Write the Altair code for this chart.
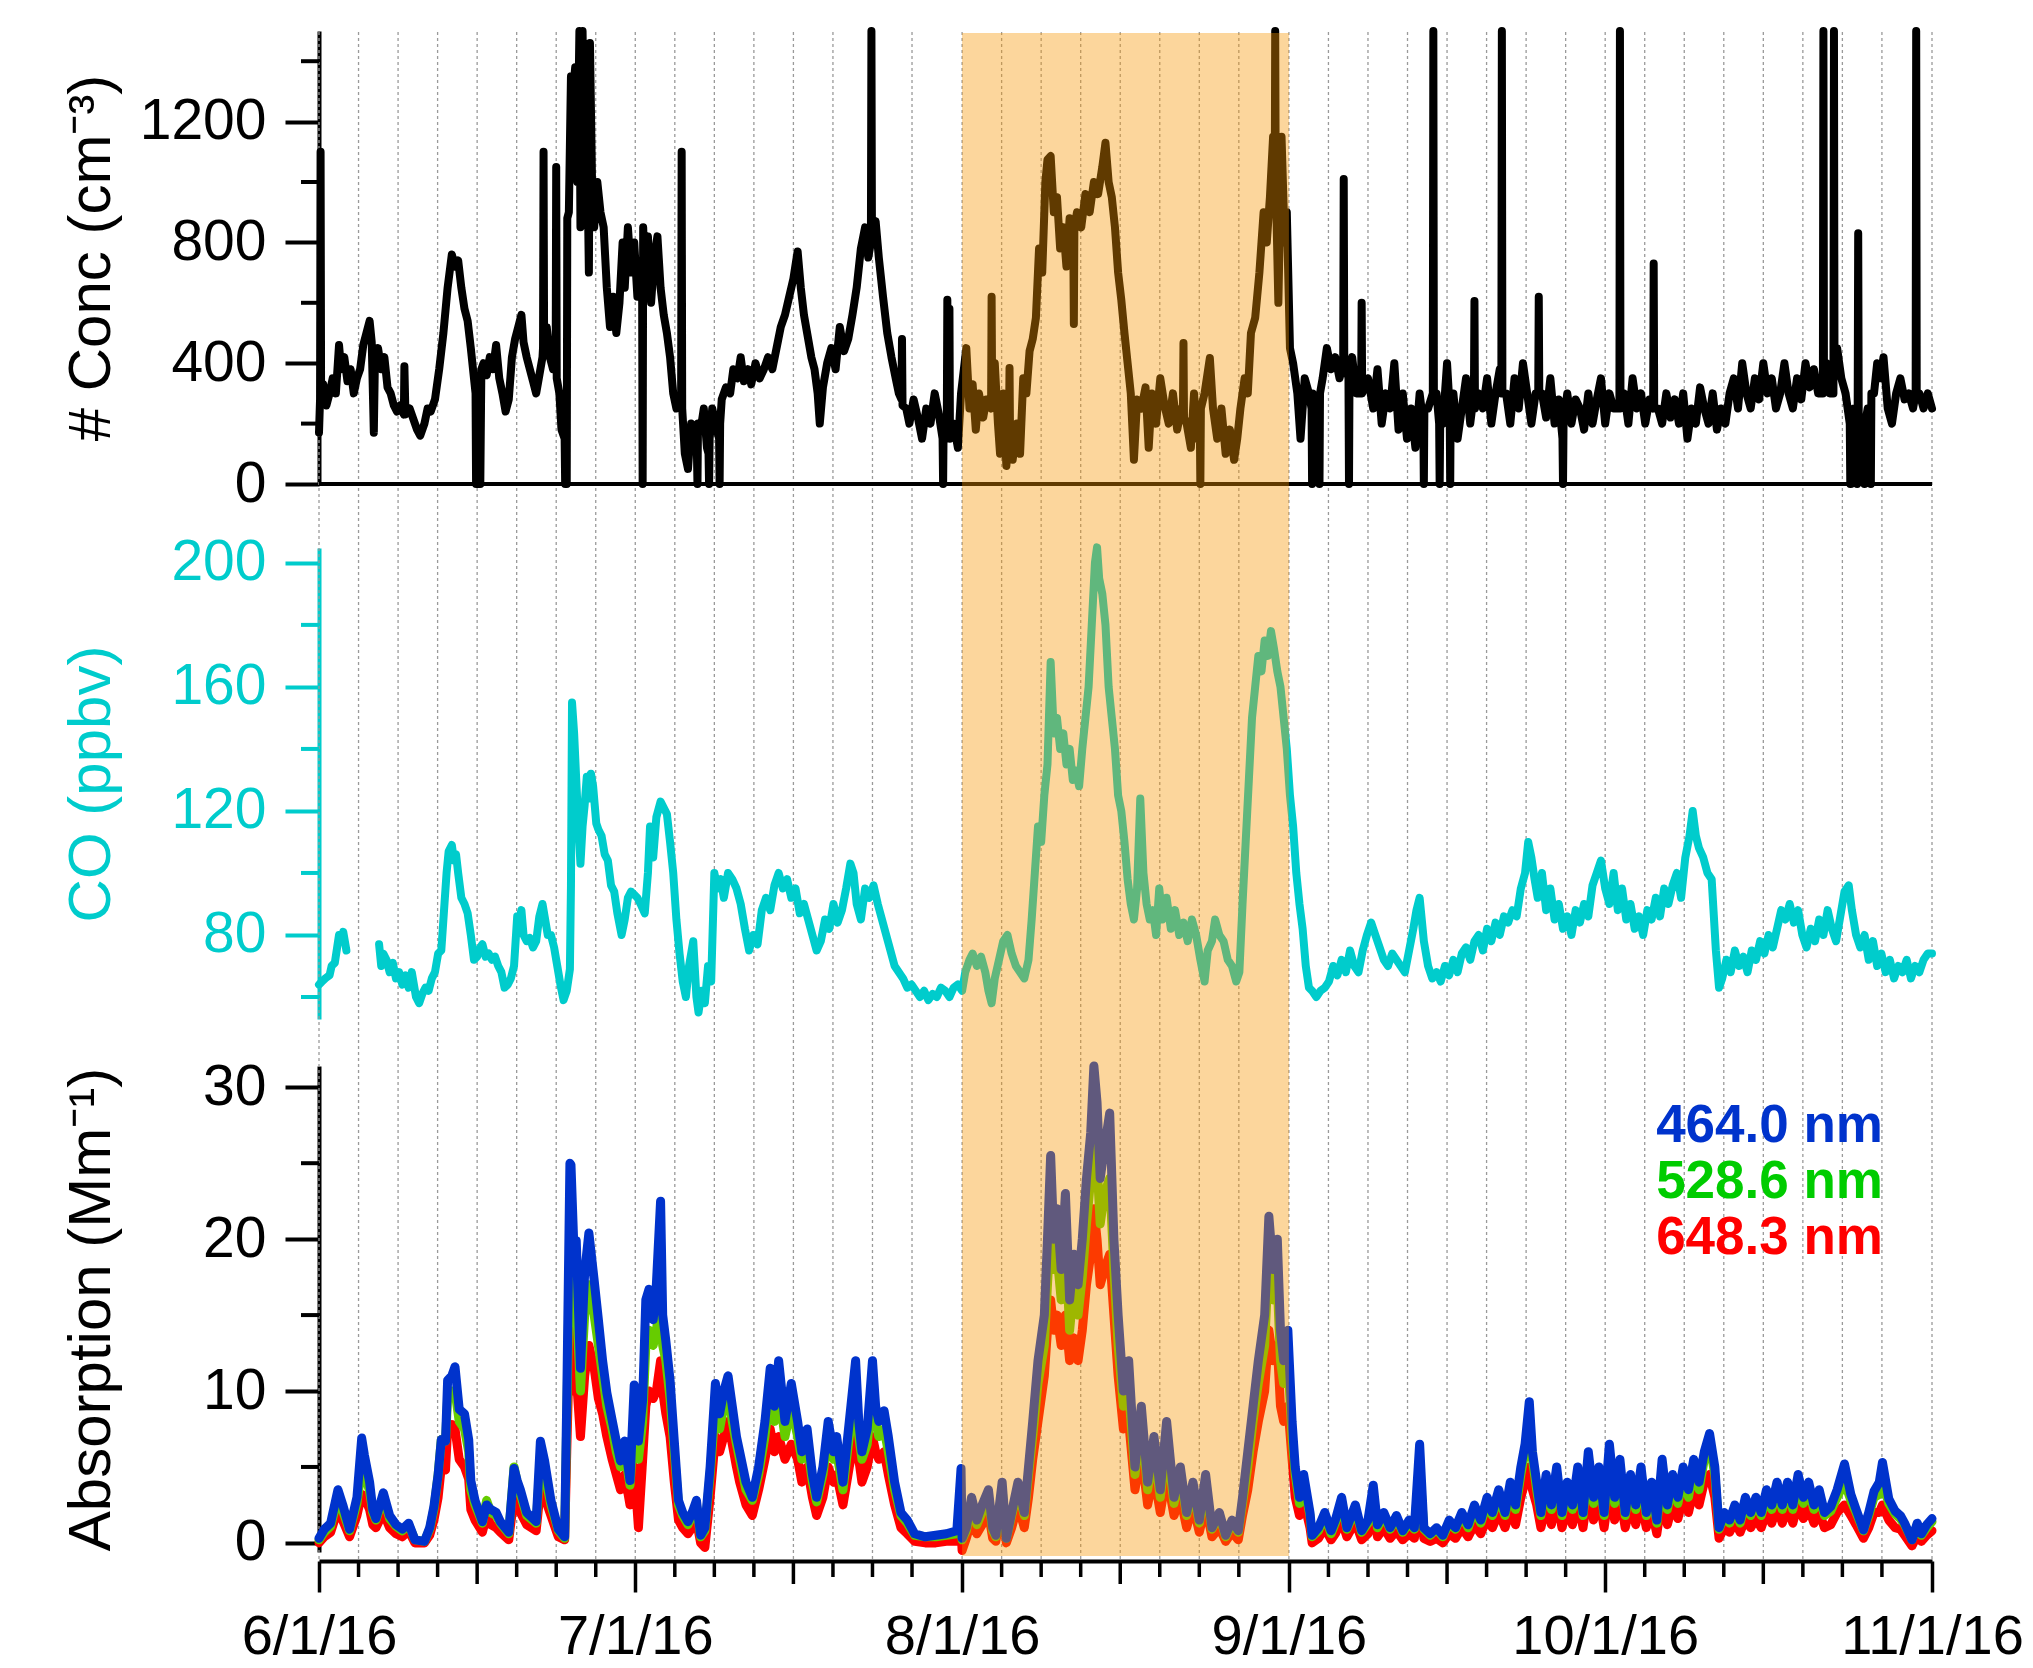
import altair as alt
import pandas as pd

# ------------------------------------------------------------------
# Data (x = days since 6/1/16)
# ------------------------------------------------------------------
MONTH_DAYS = [0, 30, 61, 92, 122, 153]
MONTH_LABELS = ["6/1/16", "7/1/16", "8/1/16", "9/1/16", "10/1/16", "11/1/16"]
BAND_DAYS = [61, 92]  # 8/1/16 -> 9/1/16 highlighted period

CONC_TICKS_MAJOR = [0, 400, 800, 1200]
CONC_TICKS_MINOR = [200, 600, 1000, 1400]
CO_TICKS_MAJOR = [80, 120, 160, 200]
CO_TICKS_MINOR = [60, 100, 140, 180]
ABS_TICKS_MAJOR = [0, 10, 20, 30]
ABS_TICKS_MINOR = [5, 15, 25]

LEGEND_LABELS = ["464.0 nm", "528.6 nm", "648.3 nm"]

# number concentration (cm^-3): (day, value)
CONC_POINTS = [
    (0.00, 170), (0.10, 280), (0.15, 1100), (0.20, 260), (0.40, 330), (0.70, 260), (1.00, 300),
    (1.30, 350), (1.60, 300), (1.90, 460), (2.10, 380), (2.40, 420), (2.70, 340), (3.00, 380),
    (3.30, 300), (3.60, 350), (3.90, 380), (4.20, 460), (4.50, 500), (4.80, 540), (5.00, 470),
    (5.20, 170), (5.30, 400), (5.60, 450), (5.90, 380), (6.20, 420), (6.50, 320), (6.80, 300),
    (7.10, 260), (7.40, 240), (7.70, 260), (8.05, 230), (8.10, 390), (8.20, 230), (8.60, 250),
    (9.00, 210), (9.30, 180), (9.60, 160), (10.0, 200), (10.3, 250), (10.6, 240), (11.0, 280),
    (11.4, 380), (11.8, 500), (12.2, 650), (12.6, 760), (12.9, 720), (13.2, 740), (13.5, 650),
    (13.8, 580), (14.1, 540), (14.4, 450), (14.7, 350), (14.85, 300), (14.9, 0), (15.3, 0),
    (15.4, 380), (15.6, 400), (15.9, 360), (16.2, 420), (16.5, 380), (16.8, 460), (17.1, 350),
    (17.4, 300), (17.7, 240), (18.0, 280), (18.3, 420), (18.6, 480), (18.9, 520), (19.2, 560),
    (19.4, 470), (19.7, 420), (20.0, 380), (20.3, 340), (20.6, 300), (20.9, 360), (21.2, 420),
    (21.25, 450), (21.3, 1100), (21.35, 480), (21.6, 520), (21.9, 420), (22.2, 380), (22.45, 400),
    (22.5, 1050), (22.55, 350), (22.8, 300), (23.0, 180), (23.3, 150), (23.35, 0), (23.5, 0),
    (23.55, 880), (23.7, 900), (23.9, 1350), (24.1, 1300), (24.3, 1380), (24.5, 1000), (24.7, 1500),
    (24.8, 850), (25.0, 1500), (25.2, 1000), (25.4, 1200), (25.6, 700), (25.7, 1460), (25.9, 1000),
    (26.1, 850), (26.4, 1000), (26.7, 900), (27.0, 850), (27.3, 650), (27.6, 520), (27.9, 620),
    (28.2, 500), (28.5, 600), (28.8, 800), (29.0, 650), (29.3, 850), (29.6, 700), (29.9, 800),
    (30.2, 620), (30.5, 700), (30.65, 650), (30.7, 0), (30.75, 850), (30.9, 700), (31.2, 820),
    (31.5, 600), (31.8, 750), (32.1, 820), (32.4, 650), (32.7, 560), (33.0, 500), (33.3, 420),
    (33.6, 300), (33.9, 250), (34.2, 280), (34.35, 300), (34.4, 1100), (34.45, 250), (34.7, 100),
    (35.0, 50), (35.3, 200), (35.6, 150), (35.85, 100), (35.9, 0), (35.95, 200), (36.2, 180),
    (36.5, 250), (36.8, 120), (36.95, 100), (37.0, 0), (37.05, 150), (37.3, 250), (37.6, 200),
    (37.95, 150), (38.0, 0), (38.05, 200), (38.2, 280), (38.6, 320), (39.0, 300), (39.3, 380),
    (39.7, 350), (40.0, 420), (40.3, 340), (40.7, 380), (41.0, 330), (41.4, 400), (41.8, 350),
    (42.2, 380), (42.6, 420), (43.0, 380), (43.4, 450), (43.8, 520), (44.2, 560), (44.6, 620),
    (45.0, 680), (45.4, 770), (45.7, 650), (46.0, 560), (46.3, 500), (46.7, 420), (47.0, 380),
    (47.3, 300), (47.5, 200), (47.8, 320), (48.2, 400), (48.6, 450), (49.0, 380), (49.4, 520),
    (49.8, 440), (50.2, 480), (50.6, 560), (51.0, 650), (51.4, 780), (51.8, 850), (52.1, 750),
    (52.35, 800), (52.4, 1500), (52.45, 820), (52.8, 870), (53.1, 750), (53.5, 620), (53.9, 500),
    (54.3, 420), (54.7, 350), (55.0, 300), (55.25, 280), (55.3, 480), (55.35, 260), (55.7, 250),
    (56.0, 200), (56.4, 280), (56.8, 220), (57.2, 150), (57.6, 250), (58.0, 200), (58.4, 300),
    (58.8, 230), (59.15, 150), (59.2, 0), (59.25, 200), (59.55, 200), (59.6, 610), (59.65, 300),
    (59.75, 250), (59.8, 580), (59.85, 150), (60.2, 200), (60.6, 120), (60.9, 300), (61.0, 330),
    (61.4, 450), (61.7, 250), (62.0, 330), (62.3, 180), (62.6, 300), (63.0, 220), (63.3, 280),
    (63.75, 250), (63.8, 620), (63.85, 300), (64.1, 400), (64.4, 200), (64.6, 100), (64.9, 300),
    (65.2, 60), (65.45, 200), (65.5, 384), (65.55, 150), (65.8, 80), (66.2, 200), (66.5, 100),
    (66.8, 350), (67.1, 300), (67.4, 440), (67.7, 480), (68.0, 550), (68.3, 780), (68.6, 700),
    (68.9, 1000), (69.1, 1074), (69.4, 1086), (69.7, 900), (70.0, 950), (70.3, 780), (70.6, 850),
    (70.9, 720), (71.2, 880), (71.55, 800), (71.6, 530), (71.65, 850), (71.9, 900), (72.3, 850),
    (72.7, 960), (73.1, 900), (73.5, 1000), (73.9, 960), (74.3, 1050), (74.6, 1130), (74.9, 1000),
    (75.2, 950), (75.5, 850), (75.8, 700), (76.1, 610), (76.4, 500), (76.7, 400), (77.0, 300),
    (77.3, 80), (77.6, 280), (78.0, 250), (78.4, 320), (78.7, 120), (79.0, 300), (79.4, 200),
    (79.8, 350), (80.2, 260), (80.6, 200), (81.0, 300), (81.4, 180), (81.8, 250), (81.95, 250),
    (82.0, 467), (82.05, 220), (82.3, 200), (82.7, 120), (83.0, 300), (83.3, 150), (83.55, 200),
    (83.6, 0), (83.65, 250), (84.0, 300), (84.5, 417), (84.8, 250), (85.2, 150), (85.6, 250),
    (86.0, 100), (86.4, 180), (86.8, 80), (87.1, 150), (87.4, 250), (87.8, 350), (88.1, 300),
    (88.4, 500), (88.8, 550), (89.2, 700), (89.6, 900), (89.9, 800), (90.2, 950), (90.5, 1150),
    (90.65, 900), (90.7, 1500), (90.75, 1000), (91.0, 600), (91.3, 1150), (91.6, 800), (91.8, 900),
    (92.1, 450), (92.4, 400), (92.8, 300), (93.1, 150), (93.5, 350), (93.9, 300), (94.15, 250),
    (94.2, 0), (94.25, 300), (94.5, 250), (94.85, 200), (94.9, 0), (94.95, 300), (95.2, 350),
    (95.6, 450), (96.0, 380), (96.4, 420), (96.8, 350), (97.15, 400), (97.2, 1010), (97.25, 420),
    (97.65, 350), (97.7, 0), (97.75, 380), (98.0, 420), (98.4, 300), (98.85, 300), (98.9, 600),
    (98.95, 300), (99.5, 350), (100.0, 250), (100.4, 380), (100.8, 200), (101.2, 300), (101.6, 250),
    (102.0, 400), (102.4, 180), (102.8, 300), (103.2, 150), (103.6, 250), (104.0, 120), (104.4, 300),
    (104.75, 200), (104.8, 0), (104.85, 250), (105.2, 250), (105.65, 300), (105.7, 1500),
    (105.75, 300), (106.0, 300), (106.25, 200), (106.3, 0), (106.35, 200), (106.6, 200),
    (107.0, 400), (107.25, 250), (107.3, 0), (107.35, 300), (107.6, 300), (108.0, 150),
    (108.4, 250), (108.8, 350), (109.2, 200), (109.55, 300), (109.6, 606), (109.65, 250),
    (110.0, 300), (110.4, 250), (110.8, 350), (111.2, 200), (111.6, 300), (112.0, 380),
    (112.15, 300), (112.2, 1500), (112.25, 300), (112.6, 300), (113.0, 200), (113.4, 350),
    (113.8, 250), (114.2, 400), (114.6, 300), (115.0, 200), (115.4, 300), (115.65, 300),
    (115.7, 620), (115.75, 300), (116.0, 300), (116.4, 220), (116.8, 350), (117.2, 200),
    (117.6, 280), (117.95, 150), (118.0, 0), (118.05, 200), (118.4, 300), (118.8, 200),
    (119.2, 280), (119.6, 250), (120.0, 180), (120.4, 300), (120.8, 200), (121.2, 280),
    (121.6, 350), (122.0, 200), (122.4, 300), (122.8, 250), (123.35, 250), (123.4, 1500),
    (123.45, 250), (123.8, 300), (124.2, 200), (124.6, 350), (125.0, 250), (125.4, 300),
    (125.8, 200), (126.2, 280), (126.55, 250), (126.6, 730), (126.65, 250), (127.0, 250),
    (127.4, 200), (127.8, 300), (128.2, 220), (128.6, 280), (129.0, 200), (129.4, 300),
    (129.8, 150), (130.2, 250), (130.6, 200), (131.0, 320), (131.4, 250), (131.8, 200),
    (132.2, 300), (132.6, 180), (133.0, 250), (133.4, 200), (133.8, 300), (134.2, 350),
    (134.6, 250), (135.0, 400), (135.4, 300), (135.8, 250), (136.2, 350), (136.6, 280),
    (137.0, 400), (137.4, 300), (137.8, 350), (138.2, 250), (138.6, 300), (139.0, 400),
    (139.4, 300), (139.8, 250), (140.2, 350), (140.6, 280), (141.0, 400), (141.4, 320),
    (141.8, 380), (142.2, 300), (142.65, 300), (142.7, 1500), (142.75, 350), (143.0, 400),
    (143.3, 300), (143.65, 300), (143.7, 1500), (143.75, 400), (144.0, 450), (144.4, 350),
    (144.8, 300), (145.2, 200), (145.25, 0), (145.3, 0), (145.6, 250), (145.85, 200), (145.9, 0),
    (145.95, 250), (146.0, 830), (146.05, 200), (146.3, 200), (146.55, 150), (146.6, 0),
    (146.65, 200), (146.9, 250), (147.15, 200), (147.2, 0), (147.25, 300), (147.5, 300),
    (147.8, 400), (148.1, 350), (148.4, 420), (148.8, 250), (149.2, 200), (149.6, 300),
    (150.0, 350), (150.4, 280), (150.8, 300), (151.2, 250), (151.45, 300), (151.5, 1500),
    (151.55, 300), (151.8, 300), (152.2, 250), (152.6, 300), (153.0, 250),
]

# CO (ppbv): two segments (gap in the record)
CO_SEG_A = [
    (0.0, 64), (0.3, 65), (0.6, 66), (1.0, 67), (1.2, 70), (1.5, 71), (1.9, 80), (2.1, 78),
    (2.3, 81), (2.6, 75),
]
CO_SEG_B = [
    (5.7, 77), (5.9, 70), (6.1, 74), (6.4, 72), (6.7, 68), (7.0, 71), (7.3, 66), (7.6, 68),
    (7.9, 64), (8.2, 67), (8.5, 63), (8.8, 68), (9.2, 60), (9.5, 58), (9.8, 61), (10.1, 63),
    (10.4, 62), (10.7, 66), (11.0, 68), (11.3, 74), (11.6, 75), (11.9, 90), (12.1, 100),
    (12.3, 107), (12.6, 109), (12.8, 104), (13.0, 106), (13.2, 100), (13.5, 92), (13.8, 90),
    (14.1, 87), (14.4, 80), (14.7, 72), (15.0, 73), (15.3, 76), (15.5, 77), (15.8, 73),
    (16.1, 74), (16.4, 72), (16.7, 73), (17.0, 70), (17.3, 68), (17.6, 63), (17.9, 64),
    (18.2, 66), (18.5, 70), (18.8, 86), (19.0, 85), (19.2, 88), (19.4, 80), (19.7, 78),
    (20.0, 79), (20.3, 76), (20.6, 78), (20.9, 86), (21.2, 90), (21.4, 86), (21.7, 80),
    (22.0, 80), (22.3, 76), (22.6, 70), (22.9, 64), (23.2, 59), (23.5, 62), (23.8, 69),
    (23.9, 96), (24.0, 155), (24.2, 145), (24.4, 130), (24.6, 115), (24.8, 103), (25.0, 115),
    (25.2, 122), (25.4, 131), (25.6, 124), (25.8, 132), (26.0, 128), (26.3, 116), (26.5, 114),
    (26.8, 112), (27.1, 106), (27.4, 104), (27.7, 96), (28.0, 94), (28.3, 87), (28.7, 80),
    (29.0, 85), (29.3, 92), (29.6, 94), (29.9, 93), (30.2, 92), (30.5, 90), (30.9, 87),
    (31.2, 100), (31.4, 115), (31.7, 105), (32.0, 118), (32.4, 123), (32.7, 121), (33.0, 119),
    (33.3, 110), (33.6, 100), (33.9, 85), (34.2, 74), (34.5, 65), (34.8, 60), (35.1, 70),
    (35.5, 78), (35.8, 60), (36.0, 55), (36.3, 62), (36.6, 58), (36.9, 70), (37.2, 65),
    (37.5, 100), (37.8, 95), (38.1, 98), (38.4, 92), (38.8, 100), (39.2, 98), (39.6, 95),
    (40.0, 90), (40.4, 82), (40.8, 75), (41.2, 80), (41.6, 77), (42.0, 88), (42.4, 92),
    (42.8, 88), (43.2, 96), (43.6, 100), (44.0, 95), (44.4, 98), (44.8, 92), (45.2, 95),
    (45.6, 87), (46.0, 90), (46.4, 85), (46.8, 80), (47.2, 75), (47.6, 78), (48.0, 85),
    (48.4, 82), (48.8, 90), (49.2, 84), (49.6, 88), (50.0, 95), (50.4, 103), (50.7, 100),
    (51.0, 90), (51.4, 85), (51.8, 95), (52.2, 92), (52.6, 96), (53.0, 90), (53.4, 85),
    (53.8, 80), (54.2, 75), (54.6, 70), (55.0, 68), (55.4, 66), (55.8, 63), (56.2, 64),
    (56.6, 62), (57.0, 60), (57.4, 62), (57.8, 59), (58.2, 61), (58.6, 60), (59.0, 63),
    (59.4, 62), (59.8, 60), (60.2, 63), (60.6, 64), (61.0, 62), (61.3, 68), (61.7, 72),
    (62.0, 74), (62.4, 70), (62.8, 73), (63.2, 68), (63.5, 62), (63.8, 58), (64.1, 66),
    (64.5, 72), (64.9, 78), (65.3, 80), (65.7, 74), (66.1, 70), (66.5, 68), (66.9, 66),
    (67.3, 72), (67.6, 85), (67.9, 100), (68.2, 115), (68.5, 110), (68.8, 125), (69.1, 135),
    (69.4, 168), (69.7, 145), (70.0, 150), (70.3, 140), (70.6, 145), (70.9, 135), (71.2, 140),
    (71.5, 130), (71.8, 133), (72.1, 128), (72.4, 140), (72.7, 150), (73.0, 160), (73.3, 180),
    (73.6, 200), (73.8, 205), (74.0, 195), (74.3, 190), (74.6, 180), (74.9, 160), (75.2, 150),
    (75.5, 140), (75.8, 125), (76.1, 120), (76.4, 110), (76.7, 98), (77.0, 90), (77.3, 85),
    (77.6, 95), (77.9, 124), (78.2, 100), (78.5, 90), (78.8, 85), (79.1, 88), (79.4, 80),
    (79.7, 95), (80.0, 85), (80.4, 92), (80.8, 82), (81.2, 88), (81.6, 80), (82.0, 84),
    (82.4, 78), (82.8, 85), (83.2, 80), (83.6, 72), (84.0, 65), (84.3, 75), (84.7, 78),
    (85.0, 85), (85.4, 80), (85.8, 78), (86.2, 72), (86.6, 70), (87.0, 65), (87.3, 68),
    (87.6, 90), (87.9, 110), (88.2, 130), (88.5, 150), (88.8, 160), (89.1, 170), (89.4, 165),
    (89.7, 175), (90.0, 170), (90.3, 178), (90.6, 172), (90.9, 165), (91.2, 160), (91.5, 150),
    (91.8, 140), (92.1, 125), (92.4, 115), (92.7, 100), (93.0, 90), (93.3, 82), (93.6, 70),
    (93.9, 63), (94.2, 62), (94.6, 60), (95.0, 62), (95.4, 63), (95.8, 65), (96.2, 70),
    (96.6, 67), (97.0, 72), (97.4, 68), (97.8, 75), (98.2, 70), (98.6, 68), (99.0, 75),
    (99.4, 80), (99.8, 84), (100.2, 80), (100.6, 76), (101.0, 72), (101.4, 70), (101.8, 74),
    (102.2, 72), (102.6, 70), (103.0, 68), (103.4, 75), (103.8, 82), (104.1, 88), (104.4, 92),
    (104.8, 78), (105.2, 70), (105.6, 66), (106.0, 68), (106.4, 65), (106.8, 70), (107.2, 67),
    (107.6, 72), (108.0, 68), (108.4, 74), (108.8, 76), (109.2, 72), (109.6, 78), (110.0, 80),
    (110.4, 75), (110.8, 82), (111.2, 78), (111.6, 84), (112.0, 80), (112.4, 86), (112.8, 84),
    (113.2, 88), (113.6, 86), (114.0, 95), (114.4, 100), (114.7, 110), (115.0, 105),
    (115.3, 98), (115.6, 92), (116.0, 100), (116.4, 88), (116.8, 95), (117.2, 85), (117.6, 90),
    (118.0, 82), (118.4, 86), (118.8, 80), (119.2, 88), (119.6, 84), (120.0, 90), (120.4, 86),
    (120.8, 96), (121.2, 100), (121.6, 104), (122.0, 95), (122.4, 90), (122.8, 100),
    (123.2, 88), (123.6, 95), (124.0, 85), (124.4, 90), (124.8, 82), (125.2, 86), (125.6, 80),
    (126.0, 88), (126.4, 85), (126.8, 92), (127.2, 86), (127.6, 95), (128.0, 90), (128.4, 96),
    (128.8, 100), (129.2, 92), (129.6, 105), (130.0, 112), (130.3, 120), (130.6, 112),
    (130.9, 108), (131.3, 105), (131.7, 100), (132.1, 98), (132.5, 75), (132.8, 63),
    (133.1, 66), (133.5, 72), (133.9, 68), (134.3, 75), (134.7, 70), (135.1, 73), (135.5, 68),
    (135.9, 75), (136.3, 72), (136.7, 78), (137.1, 74), (137.5, 80), (137.9, 76), (138.3, 82),
    (138.7, 88), (139.1, 85), (139.5, 90), (139.9, 84), (140.3, 88), (140.7, 80), (141.1, 76),
    (141.5, 82), (141.9, 78), (142.3, 85), (142.7, 80), (143.1, 88), (143.5, 82), (143.9, 78),
    (144.3, 86), (144.7, 94), (145.1, 96), (145.4, 88), (145.8, 80), (146.2, 76), (146.6, 80),
    (147.0, 72), (147.4, 78), (147.8, 70), (148.2, 74), (148.6, 68), (149.0, 72), (149.4, 66),
    (149.8, 70), (150.2, 68), (150.6, 72), (151.0, 66), (151.4, 70), (151.8, 68), (152.2, 72),
    (152.6, 74), (153.0, 74),
]

# Absorption (Mm^-1): (day, 464.0 nm, 528.6 nm, 648.3 nm)
ABS_ROWS = [
    (0.0, 0.3, 0.2, 0.0), (0.5, 0.9, 0.7, 0.4), (1.1, 1.3, 1.1, 0.7), (1.8, 3.5, 3.0, 2.2),
    (2.3, 2.4, 2.0, 1.4), (2.9, 0.9, 0.8, 0.4), (3.6, 3.0, 2.6, 1.8), (4.05, 6.9, 5.0, 3.2),
    (4.3, 5.8, 4.6, 3.0), (4.8, 4.0, 3.4, 2.2), (5.1, 2.2, 2.0, 1.2), (5.4, 1.6, 1.5, 1.0),
    (6.1, 3.3, 3.0, 2.0), (6.7, 1.8, 1.6, 1.0), (7.3, 1.2, 1.1, 0.6), (7.9, 0.9, 0.8, 0.4),
    (8.5, 1.3, 1.2, 0.8), (9.1, 0.2, 0.2, 0.0), (10.0, 0.1, 0.1, 0.0), (10.5, 1.0, 0.9, 0.5),
    (10.9, 2.4, 2.2, 1.5), (11.3, 4.5, 4.5, 3.0), (11.6, 6.8, 6.8, 5.0), (12.0, 6.7, 6.7, 4.8),
    (12.2, 10.7, 9.5, 7.5), (12.6, 11.0, 10.0, 7.8), (12.9, 11.6, 10.0, 7.5), (13.3, 8.8, 8.0, 5.5),
    (13.8, 8.5, 7.5, 5.0), (14.2, 6.8, 6.0, 4.2), (14.4, 4.1, 3.5, 2.2), (14.8, 2.8, 2.5, 1.5),
    (15.5, 1.4, 1.3, 0.7), (15.9, 2.5, 2.8, 1.8), (16.3, 2.2, 2.0, 1.2), (16.8, 2.0, 1.8, 1.0),
    (17.2, 1.4, 1.3, 0.7), (18.0, 0.7, 0.6, 0.2), (18.5, 4.9, 5.0, 3.0), (18.8, 4.1, 4.0, 2.5),
    (19.1, 3.5, 3.2, 2.0), (19.7, 2.0, 1.8, 1.2), (20.6, 1.4, 1.3, 0.8), (21.0, 6.7, 5.5, 3.5),
    (21.4, 5.4, 4.5, 3.0), (22.0, 2.8, 2.5, 1.8), (22.7, 0.9, 0.8, 0.4), (23.3, 0.4, 0.3, 0.2),
    (23.5, 9.4, 8.0, 6.0), (23.8, 25.0, 20.0, 14.0), (23.9, 24.9, 20.0, 13.0),
    (24.2, 19.0, 15.0, 10.0), (24.4, 19.9, 16.0, 11.0), (24.8, 11.5, 10.0, 7.0),
    (25.2, 17.8, 15.0, 11.0), (25.6, 20.4, 17.0, 13.0), (26.1, 17.3, 15.0, 11.5),
    (26.5, 14.7, 13.0, 9.5), (26.9, 12.0, 11.0, 8.5), (27.3, 9.9, 9.0, 7.0), (27.8, 8.1, 7.5, 5.5),
    (28.2, 6.7, 6.0, 4.5), (28.6, 5.4, 5.0, 3.5), (29.0, 6.7, 6.0, 4.5), (29.5, 4.1, 3.8, 2.5),
    (29.9, 10.4, 8.0, 5.0), (30.3, 6.7, 5.5, 1.0), (30.7, 9.4, 8.0, 5.5), (31.0, 16.0, 13.0, 9.0),
    (31.3, 16.7, 14.0, 10.0), (31.7, 14.7, 13.0, 9.5), (32.0, 17.0, 14.0, 10.0),
    (32.4, 22.5, 16.0, 12.0), (32.6, 15.0, 13.0, 10.0), (32.9, 13.3, 12.0, 8.5),
    (33.3, 10.7, 9.5, 7.0), (33.7, 6.7, 6.0, 4.0), (34.1, 2.8, 2.5, 1.5), (34.5, 2.0, 1.8, 1.0),
    (35.0, 1.4, 1.2, 0.6), (35.4, 2.0, 1.8, 1.0), (35.8, 2.8, 2.5, 1.5), (36.2, 0.5, 0.4, 0.0),
    (36.6, 1.0, 0.8, -0.3), (37.1, 5.0, 4.5, 3.0), (37.6, 10.5, 9.0, 7.0), (38.0, 8.5, 7.5, 6.0),
    (38.4, 10.0, 9.0, 7.0), (38.8, 11.0, 10.0, 8.0), (39.2, 9.0, 8.0, 6.5), (39.6, 7.0, 6.5, 5.0),
    (39.9, 6.0, 5.5, 4.0), (40.5, 4.0, 3.5, 2.5), (41.1, 3.0, 2.8, 1.8), (41.7, 5.0, 4.5, 3.5),
    (42.3, 8.0, 7.0, 5.5), (42.8, 11.5, 10.0, 7.5), (43.2, 9.0, 8.0, 6.0), (43.6, 12.0, 10.0, 7.0),
    (44.2, 8.0, 7.0, 5.5), (44.8, 10.5, 9.0, 6.5), (45.4, 8.0, 7.0, 5.5), (45.8, 6.0, 5.5, 4.0),
    (46.3, 7.5, 6.5, 5.0), (46.8, 4.5, 4.0, 3.0), (47.2, 3.0, 2.7, 1.8), (47.8, 5.0, 4.5, 3.0),
    (48.3, 8.0, 7.0, 5.0), (48.8, 6.0, 5.5, 4.0), (49.1, 7.0, 6.0, 4.5), (49.7, 4.0, 3.5, 2.5),
    (50.3, 8.0, 7.0, 5.0), (50.9, 12.0, 9.5, 7.0), (51.2, 8.0, 7.0, 5.5), (51.5, 6.0, 5.5, 4.0),
    (52.0, 7.5, 6.5, 5.0), (52.5, 12.0, 10.0, 7.0), (52.8, 9.0, 8.0, 6.0), (53.1, 8.0, 7.0, 5.5),
    (53.6, 8.7, 7.5, 6.0), (54.0, 7.0, 6.0, 4.5), (54.6, 4.0, 3.5, 2.5), (55.2, 2.0, 1.8, 1.0),
    (55.8, 1.5, 1.3, 0.6), (56.5, 0.6, 0.5, 0.1), (57.5, 0.4, 0.4, 0.0), (58.5, 0.5, 0.4, 0.0),
    (59.5, 0.6, 0.5, 0.1), (60.5, 0.8, 0.6, 0.1), (60.9, 4.9, 2.0, 1.0), (61.0, 0.3, 0.2, -0.5),
    (61.4, 1.0, 0.8, 0.3), (61.9, 3.0, 2.5, 1.5), (62.4, 1.5, 1.2, 0.6), (62.9, 2.5, 2.0, 1.2),
    (63.5, 3.5, 3.0, 2.0), (63.9, 1.0, 0.8, 0.3), (64.2, 0.5, 0.4, 0.1), (64.8, 4.0, 3.5, 2.5),
    (65.2, 0.3, 0.3, 0.0), (65.7, 2.0, 1.8, 1.0), (66.3, 4.0, 3.5, 2.5), (66.9, 2.0, 1.8, 1.0),
    (67.3, 5.0, 4.5, 3.0), (67.7, 8.0, 7.0, 5.5), (68.2, 12.0, 10.5, 8.0), (68.8, 15.0, 13.0, 11.0),
    (69.1, 20.0, 17.0, 14.0), (69.4, 25.5, 21.0, 16.0), (69.7, 20.0, 18.0, 14.0),
    (70.0, 22.0, 19.0, 15.0), (70.4, 18.0, 16.0, 13.0), (70.8, 23.0, 20.0, 15.0),
    (71.2, 16.0, 14.0, 12.0), (71.6, 19.0, 17.0, 13.5), (72.0, 17.0, 15.0, 12.0),
    (72.4, 20.0, 17.5, 14.0), (72.8, 24.0, 21.0, 17.0), (73.2, 27.0, 24.0, 19.0),
    (73.5, 31.4, 27.5, 22.0), (73.8, 29.0, 25.0, 20.0), (74.1, 24.0, 21.0, 17.0),
    (74.5, 26.0, 23.0, 18.0), (75.0, 28.3, 24.0, 19.0), (75.4, 20.0, 18.0, 15.0),
    (75.8, 15.0, 13.0, 11.0), (76.3, 10.0, 9.0, 7.5), (76.8, 12.0, 10.0, 8.0), (77.4, 5.0, 4.5, 3.5),
    (78.0, 9.0, 8.0, 6.0), (78.6, 4.0, 3.5, 2.5), (79.2, 7.0, 6.0, 4.5), (79.8, 3.5, 3.0, 2.0),
    (80.4, 8.0, 6.5, 4.5), (81.1, 3.0, 2.6, 1.8), (81.7, 5.0, 4.5, 3.0), (82.3, 2.0, 1.8, 1.0),
    (82.9, 4.0, 3.5, 2.5), (83.5, 1.5, 1.3, 0.7), (84.1, 4.5, 3.8, 2.5), (84.7, 1.0, 0.9, 0.4),
    (85.4, 2.0, 1.8, 1.0), (86.0, 0.5, 0.4, 0.1), (86.6, 1.5, 1.3, 0.7), (87.2, 0.8, 0.7, 0.2),
    (87.6, 3.0, 2.6, 1.8), (88.1, 6.0, 5.0, 3.5), (88.6, 9.0, 8.0, 6.0), (89.1, 12.0, 10.5, 8.0),
    (89.7, 15.0, 13.0, 10.0), (90.1, 21.5, 19.0, 14.0), (90.5, 18.0, 16.0, 12.0),
    (90.9, 20.0, 17.0, 13.0), (91.2, 14.0, 12.0, 9.0), (91.5, 12.0, 10.5, 8.0),
    (91.9, 14.0, 12.0, 9.0), (92.3, 8.0, 7.0, 5.5), (92.6, 5.0, 4.5, 3.0), (93.0, 3.0, 2.6, 1.8),
    (93.4, 4.5, 4.0, 2.8), (94.0, 2.0, 1.8, 1.0), (94.2, 0.5, 0.4, 0.0), (94.8, 1.0, 0.8, 0.3),
    (95.4, 2.0, 1.8, 1.0), (96.0, 0.8, 0.6, 0.2), (96.4, 1.5, 1.3, 0.6), (97.0, 3.0, 2.6, 1.5),
    (97.5, 1.0, 0.9, 0.4), (98.3, 2.5, 2.2, 1.4), (98.9, 0.8, 0.7, 0.2), (99.5, 1.5, 1.3, 0.6),
    (100.0, 3.8, 3.2, 2.0), (100.4, 1.2, 1.0, 0.4), (101.0, 2.0, 1.8, 1.0), (101.6, 1.0, 0.9, 0.3),
    (102.2, 1.8, 1.6, 0.8), (102.8, 0.8, 0.7, 0.2), (103.4, 1.5, 1.3, 0.6), (103.9, 1.0, 0.9, 0.3),
    (104.4, 6.5, 5.0, 3.0), (104.8, 1.0, 0.9, 0.3), (105.4, 0.6, 0.5, 0.1), (106.0, 1.0, 0.9, 0.3),
    (106.6, 0.5, 0.4, 0.0), (107.2, 1.5, 1.3, 0.6), (107.8, 1.0, 0.9, 0.3), (108.4, 2.0, 1.8, 1.0),
    (109.0, 1.2, 1.0, 0.4), (109.6, 2.5, 2.2, 1.2), (110.2, 1.5, 1.3, 0.6), (110.8, 3.0, 2.6, 1.6),
    (111.3, 2.0, 1.8, 1.0), (111.9, 3.5, 3.0, 2.0), (112.5, 2.0, 1.8, 1.0), (113.0, 4.0, 3.5, 2.2),
    (113.5, 2.5, 2.2, 1.2), (114.0, 5.0, 4.5, 3.0), (114.4, 6.5, 6.0, 4.0), (114.8, 9.3, 8.0, 5.0),
    (115.1, 6.0, 5.5, 3.5), (115.5, 4.0, 3.5, 2.5), (115.9, 2.0, 1.8, 1.0), (116.4, 4.5, 4.0, 2.5),
    (116.9, 2.5, 2.2, 1.2), (117.4, 5.0, 4.5, 3.0), (117.9, 2.0, 1.8, 1.0), (118.4, 4.0, 3.5, 2.2),
    (118.9, 2.5, 2.2, 1.2), (119.4, 5.0, 4.2, 2.8), (119.9, 2.0, 1.8, 1.0), (120.4, 6.0, 5.0, 3.5),
    (120.9, 3.0, 2.6, 1.5), (121.4, 5.0, 4.5, 3.0), (121.9, 2.0, 1.8, 1.0), (122.4, 6.5, 5.5, 3.5),
    (122.9, 3.0, 2.6, 1.5), (123.4, 5.5, 4.8, 3.0), (123.9, 2.0, 1.8, 1.0), (124.4, 4.5, 4.0, 2.5),
    (124.9, 2.5, 2.2, 1.2), (125.4, 5.0, 4.3, 2.8), (125.9, 2.0, 1.8, 1.0), (126.4, 4.0, 3.5, 2.2),
    (126.9, 1.5, 1.3, 0.6), (127.4, 5.5, 4.5, 3.0), (127.9, 2.5, 2.2, 1.2), (128.4, 4.5, 4.0, 2.5),
    (128.9, 3.0, 2.6, 1.6), (129.4, 5.0, 4.5, 3.0), (129.9, 3.5, 3.0, 2.0), (130.4, 5.5, 5.0, 3.5),
    (130.9, 4.0, 3.5, 2.5), (131.4, 6.0, 5.5, 4.0), (131.9, 7.2, 6.5, 4.5), (132.4, 5.0, 4.5, 3.0),
    (132.8, 1.0, 0.9, 0.3), (133.3, 2.0, 1.8, 1.0), (133.8, 1.5, 1.3, 0.7), (134.3, 2.5, 2.2, 1.4),
    (134.8, 1.5, 1.3, 0.7), (135.3, 3.0, 2.6, 1.6), (135.8, 2.0, 1.8, 1.0), (136.3, 3.0, 2.6, 1.6),
    (136.8, 2.0, 1.8, 1.0), (137.3, 3.5, 3.0, 2.0), (137.8, 2.5, 2.2, 1.3), (138.3, 4.0, 3.5, 2.4),
    (138.8, 2.5, 2.2, 1.3), (139.3, 4.0, 3.5, 2.3), (139.8, 2.5, 2.2, 1.3), (140.3, 4.5, 4.0, 2.6),
    (140.8, 3.0, 2.6, 1.6), (141.3, 4.0, 3.5, 2.3), (141.8, 2.5, 2.2, 1.3), (142.3, 3.5, 3.0, 2.0),
    (142.8, 2.0, 1.8, 1.0), (143.4, 2.4, 2.1, 1.2), (144.0, 3.5, 3.0, 2.0), (144.7, 5.2, 4.0, 2.5),
    (145.3, 3.2, 2.8, 1.8), (145.8, 2.2, 2.0, 1.2), (146.5, 0.85, 0.8, 0.3), (147.0, 2.0, 1.8, 1.0),
    (147.5, 3.4, 3.0, 2.0), (148.0, 4.0, 3.2, 2.0), (148.3, 5.3, 4.0, 2.5), (148.9, 2.9, 2.6, 1.5),
    (149.5, 2.1, 1.9, 1.0), (150.0, 1.8, 1.6, 0.9), (150.4, 1.3, 1.2, 0.5), (151.1, 0.2, 0.2, -0.2),
    (151.6, 1.3, 1.2, 0.5), (152.0, 0.6, 0.5, 0.1), (152.5, 1.2, 1.0, 0.5), (153.0, 1.6, 1.4, 0.8),
]

# ------------------------------------------------------------------
# Layout / style
# ------------------------------------------------------------------
W, H = 1613, 1530
FONT = "Liberation Sans"
CYAN = "#00CCCC"
BLUE, GREEN, RED = "#0033CC", "#66CC00", "#FF0000"
LEGEND_COLORS = ["#0033CC", "#00CC00", "#FF0000"]
BAND_COLOR = "#F69500"

P1_DOMAIN, P1_RANGE = [0, 1500], [453, 0]
P2_DOMAIN, P2_RANGE = [52.9, 204.8], [988, 517]
P3_DOMAIN, P3_RANGE = [-0.6, 31.4], [1521, 1035]

# tick positions on the date axis: months split into 3.75-day steps
minor_days, medium_days = [], []
for m in MONTH_DAYS[:-1]:
    for k in range(1, 8):
        (medium_days if k == 4 else minor_days).append(m + k * 3.75)
grid_days = sorted(MONTH_DAYS + minor_days + medium_days)

label_expr = " : ".join(
    f"datum.value == {d} ? '{lab}'" for d, lab in zip(MONTH_DAYS, MONTH_LABELS)
) + " : ''"

xscale = alt.Scale(domain=[0, 153], nice=False, zero=False)
x_axis = alt.Axis(
    orient="bottom", values=MONTH_DAYS, labelExpr=label_expr, tickSize=31, tickWidth=3.5,
    tickColor="black", domainWidth=4, domainColor="black", labelColor="black",
    labelFont=FONT, labelFontSize=56, labelPadding=17, labelLimit=0, labelFlush=False,
    labelOverlap=False, grid=False, title=None,
)


def xenc(field="day"):
    # identical axis definition in every layer so the shared x axis merges cleanly
    return alt.X(f"{field}:Q", scale=xscale, axis=x_axis, title=None)


def yscale(dom, rng):
    return alt.Scale(domain=dom, range=rng, nice=False, zero=False)


def yaxis(values, title, color):
    return alt.Axis(
        orient="left", values=values, format="d", tickSize=34, tickWidth=4, tickColor=color,
        domainWidth=4, domainColor=color, labelColor=color, labelFont=FONT,
        labelFontSize=57, labelPadding=19, labelLimit=0, labelOverlap=False, labelFlush=False,
        title=title, titleColor=color, titleFont=FONT, titleFontSize=60,
        titleFontWeight="normal", titleX=-210, titleBaseline="alphabetic",
        titleLimit=0, grid=False,
    )


# ------------------------------------------------------------------
# Layers (flat; every y-scale layer is independent)
# ------------------------------------------------------------------
grid = alt.Chart(pd.DataFrame({"day": grid_days})).mark_rule(
    color="#9a9a9a", strokeDash=[3, 3], strokeWidth=1.3
).encode(x=xenc(), y=alt.value(1), y2=alt.value(H))

x_minor = alt.Chart(pd.DataFrame({"day": minor_days})).mark_rule(
    color="black", strokeWidth=3.5
).encode(x=xenc(), y=alt.value(H), y2=alt.value(H + 16))
x_medium = alt.Chart(pd.DataFrame({"day": medium_days})).mark_rule(
    color="black", strokeWidth=3.5
).encode(x=xenc(), y=alt.value(H), y2=alt.value(H + 23))


def minor_ticks(values, scale, color):
    return alt.Chart(pd.DataFrame({"v": values})).mark_rule(
        color=color, strokeWidth=4
    ).encode(y=alt.Y("v:Q", scale=scale, axis=None), x=alt.value(-18), x2=alt.value(0))


# panel 1 : number concentration
s1 = yscale(P1_DOMAIN, P1_RANGE)
conc_df = pd.DataFrame(CONC_POINTS, columns=["day", "v"])
p1_line = alt.Chart(conc_df).mark_line(
    color="black", strokeWidth=8, strokeJoin="round", strokeCap="round"
).encode(x=xenc(), y=alt.Y("v:Q", scale=s1,
                            axis=yaxis(CONC_TICKS_MAJOR, "# Conc (cm\u207b\u00b3)", "black")))
p1_base = alt.Chart(pd.DataFrame({"v": [0]})).mark_rule(color="black", strokeWidth=4).encode(
    y=alt.Y("v:Q", scale=s1, axis=None), x=alt.value(0), x2=alt.value(W))
p1_minor = minor_ticks(CONC_TICKS_MINOR, s1, "black")

# panel 2 : CO
s2 = yscale(P2_DOMAIN, P2_RANGE)
co_df = pd.concat([
    pd.DataFrame(CO_SEG_A, columns=["day", "v"]).assign(seg="a"),
    pd.DataFrame(CO_SEG_B, columns=["day", "v"]).assign(seg="b"),
])
p2_line = alt.Chart(co_df).mark_line(
    color=CYAN, strokeWidth=8, strokeJoin="round", strokeCap="round"
).encode(x=xenc(), y=alt.Y("v:Q", scale=s2, axis=yaxis(CO_TICKS_MAJOR, "CO (ppbv)", CYAN)),
         detail="seg:N")
p2_minor = minor_ticks(CO_TICKS_MINOR, s2, CYAN)

# panel 3 : absorption
s3 = yscale(P3_DOMAIN, P3_RANGE)
abs_df = pd.DataFrame(ABS_ROWS, columns=["day", "b464", "g528", "r648"])


def abs_line(col, color, axis):
    return alt.Chart(abs_df).mark_line(
        color=color, strokeWidth=9, strokeJoin="round", strokeCap="round"
    ).encode(x=xenc(), y=alt.Y(f"{col}:Q", scale=s3, axis=axis))


p3_red = abs_line("r648", RED, yaxis(ABS_TICKS_MAJOR, "Absorption (Mm\u207b\u00b9)", "black"))
p3_green = abs_line("g528", GREEN, None)
p3_blue = abs_line("b464", BLUE, None)
p3_minor = minor_ticks(ABS_TICKS_MINOR, s3, "black")

# highlighted period (drawn over the data, semi-transparent)
band = alt.Chart(pd.DataFrame({"day": [BAND_DAYS[0]], "e": [BAND_DAYS[1]]})).mark_rect(
    color=BAND_COLOR, opacity=0.39
).encode(x=xenc(), x2="e:Q", y=alt.value(2), y2=alt.value(H - 5))

# wavelength legend
legend_layers = []
for i, (lab, col) in enumerate(zip(LEGEND_LABELS, LEGEND_COLORS)):
    legend_layers.append(
        alt.Chart(pd.DataFrame({"t": [lab]})).mark_text(
            font=FONT, fontSize=53, fontWeight="bold", align="right",
            baseline="alphabetic", color=col
        ).encode(text="t:N", x=alt.value(1564), y=alt.value(1111 + 56 * i))
    )

chart = alt.layer(
    grid,
    p1_line, p1_base, p1_minor,
    p2_line, p2_minor,
    p3_red, p3_green, p3_blue, p3_minor,
    x_minor, x_medium, band, *legend_layers
).resolve_scale(y="independent").properties(
    width=W, height=H,
    autosize=alt.AutoSizeParams(type="none"),
    padding={"left": 319, "top": 31, "right": 101, "bottom": 107},
    background="white",
).configure_view(stroke=None)

chart.save("out.html", embed_options={"renderer": "svg", "actions": False})
